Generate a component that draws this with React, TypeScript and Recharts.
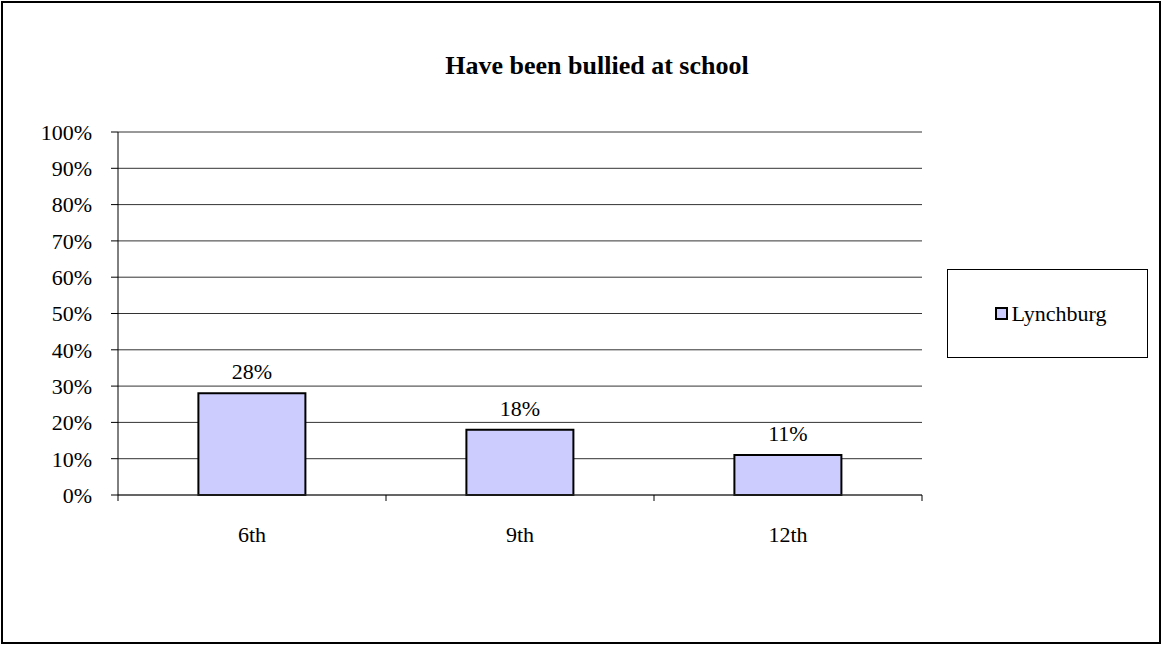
import { BarChart, Bar, XAxis, YAxis, CartesianGrid, Legend, LabelList } from "recharts";

const grades = ["6th", "9th", "12th"];
const lynchburg = [28, 18, 11];
const yTicks = [0, 10, 20, 30, 40, 50, 60, 70, 80, 90, 100];

const data = grades.map((g, i) => ({ grade: g, Lynchburg: lynchburg[i] }));

const FONT = "'Liberation Serif', 'Times New Roman', serif";

// category label plus the boundary tick marks Excel draws between categories
function GradeTick(props: any) {
  const { x, y, payload, index } = props;
  const half = payload.offset ?? 0;
  const top = y - 32;
  return (
    <g>
      <line x1={x - half} x2={x - half} y1={top} y2={top + 6} stroke="#000" />
      {index === grades.length - 1 && (
        <line x1={x + half} x2={x + half} y1={top} y2={top + 6} stroke="#000" />
      )}
      <text x={x} y={y} dy={15} textAnchor="middle" fontSize={22} fontFamily={FONT} fill="#000">
        {payload.value}
      </text>
    </g>
  );
}

function LegendBox({ payload }: any) {
  return (
    <div style={{ display: "flex", alignItems: "center", justifyContent: "center", height: "100%", paddingLeft: 6, boxSizing: "border-box" }}>
      {(payload || []).map((p: any) => (
        <div key={p.value} style={{ display: "flex", alignItems: "center" }}>
          <span style={{ width: 9, height: 9, border: "2px solid #000", background: "#ccccff", marginRight: 4 }} />
          <span style={{ fontSize: 22, fontFamily: FONT, color: "#000" }}>{p.value}</span>
        </div>
      ))}
    </div>
  );
}

export default function App() {
  return (
    <div style={{ position: "absolute", left: 0, top: 0, width: 1163, height: 646, background: "#fff", fontFamily: FONT }}>
      <div style={{ position: "absolute", left: 1, top: 1, width: 1160, height: 643, border: "2px solid #000", boxSizing: "border-box" }} />
      <div style={{ position: "absolute", left: 397, top: 53, width: 400, textAlign: "center", fontSize: 26, lineHeight: "26px", fontWeight: "bold", color: "#000" }}>
        Have been bullied at school
      </div>
      <BarChart width={1163} height={646} data={data} margin={{ top: 132, right: 241, bottom: 111, left: 0 }} barCategoryGap="30%">
        <CartesianGrid vertical={false} stroke="#333" />
        <XAxis dataKey="grade" height={40} tickLine={false} tickSize={6} tickMargin={26} axisLine={{ stroke: "#333" }} tick={<GradeTick />} interval={0} />
        <YAxis width={118} domain={[0, 100]} ticks={yTicks} tickFormatter={(v) => `${v}%`} tickSize={7} tickMargin={19}
          axisLine={{ stroke: "#000" }} tickLine={{ stroke: "#000" }} tick={{ fontSize: 22, fontFamily: FONT, fill: "#000" }} />
        <Legend layout="horizontal" verticalAlign="middle" align="center" content={<LegendBox />}
          wrapperStyle={{ left: 947, top: 269, width: 201, height: 89, border: "1px solid #000", boxSizing: "border-box", background: "#fff" }} />
        <Bar dataKey="Lynchburg" fill="#ccccff" stroke="#000" strokeWidth={2} isAnimationActive={false}>
          <LabelList dataKey="Lynchburg" position="top" offset={14} formatter={(v: any) => `${v}%`} fontSize={22} fontFamily={FONT} fill="#000" />
        </Bar>
      </BarChart>
    </div>
  );
}
